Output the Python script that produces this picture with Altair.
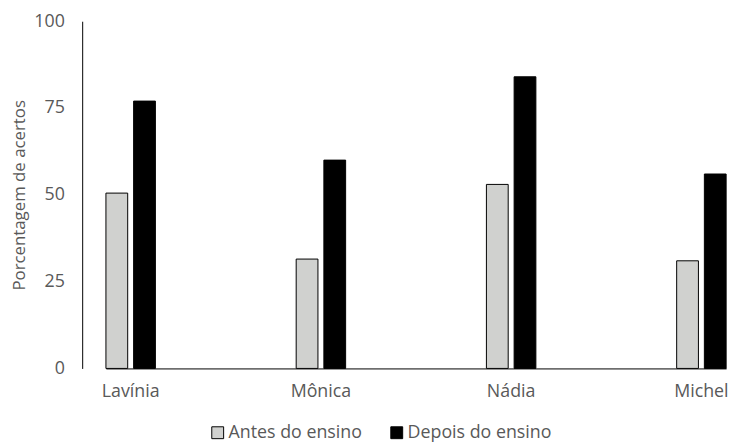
import altair as alt
import pandas as pd

alunos = ["Lavínia", "Mônica", "Nádia", "Michel"]
momentos = ["Antes do ensino", "Depois do ensino"]
antes = [50.5, 31.5, 53, 31]
depois = [77, 60, 84, 56]
cores = ["#d0d1cf", "#000000"]

rows = []
for a, v1, v2 in zip(alunos, antes, depois):
    rows.append({"aluno": a, "momento": momentos[0], "valor": v1})
    rows.append({"aluno": a, "momento": momentos[1], "valor": v2})
df = pd.DataFrame(rows)

FONT = "Open Sans"
GRAY = "#595959"

chart = alt.Chart(df).mark_bar(stroke="#000000", strokeWidth=1).encode(
    x=alt.X("aluno:N", sort=alunos, title=None,
            scale=alt.Scale(range=[24, 651], paddingInner=0.74, paddingOuter=0),
            axis=alt.Axis(labelAngle=0, ticks=False, tickSize=0, labelPadding=14,
                          domainColor="#000000", domainWidth=1, grid=False,
                          labelFont=FONT, labelFontSize=18, labelColor=GRAY)),
    xOffset=alt.XOffset("momento:N", sort=momentos,
                        scale=alt.Scale(paddingInner=0.214, paddingOuter=0)),
    y=alt.Y("valor:Q", title="Porcentagem de acertos",
            scale=alt.Scale(domain=[0, 100], nice=False),
            axis=alt.Axis(values=[0, 25, 50, 75, 100], ticks=False, tickSize=0,
                          labelPadding=18, domainColor="#000000", domainWidth=1,
                          grid=False, labelFont=FONT, labelFontSize=18,
                          labelColor=GRAY, titleFont=FONT, titleFontSize=17,
                          titleColor=GRAY, titleFontWeight="normal",
                          titlePadding=5)),
    color=alt.Color("momento:N", sort=momentos, title=None,
                    scale=alt.Scale(domain=momentos, range=cores),
                    legend=alt.Legend(orient="none", direction="horizontal",
                                      legendX=128, legendY=407,
                                      symbolType="square", symbolSize=144,
                                      symbolStrokeColor="#000000",
                                      symbolStrokeWidth=1, labelOffset=2,
                                      columnPadding=26, labelFont=FONT,
                                      labelFontSize=18, labelColor=GRAY)),
).properties(
    width=663, height=351,
    background="white",
    autosize=alt.AutoSizeParams(type="none"),
    padding={"left": 75, "top": 11, "right": 0, "bottom": 73},
).configure_view(stroke=None)

chart.save("out.html", embed_options={"renderer": "svg", "actions": False})
